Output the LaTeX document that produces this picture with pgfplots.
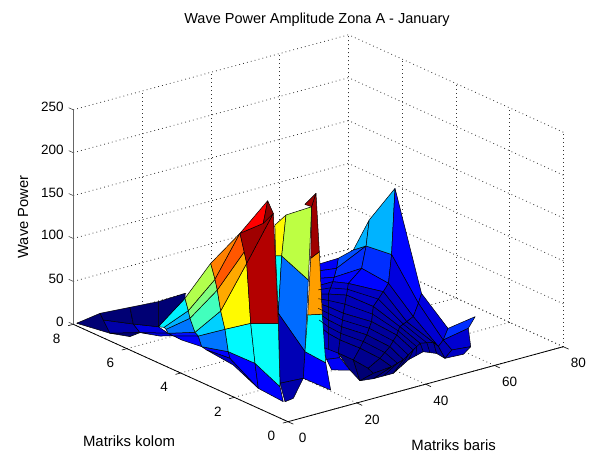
\documentclass[border=0pt]{standalone}
\usepackage{fontspec}
\setmainfont{Liberation Sans}
\usepackage{pgfplots}
\pgfplotsset{compat=1.18}
\begin{document}
\begin{tikzpicture}[x=1pt,y=1pt]
\path[use as bounding box] (0,0) rectangle (595,452);
\begin{axis}[
  at={(288pt,30.3pt)},anchor=origin,
  x={(3.441pt,0.9375pt)},y={(-26.84pt,12.175pt)},z={(0pt,0.858pt)},
  xmin=0,xmax=80,ymin=0,ymax=8,zmin=0,zmax=250,
  xtick={0,20,40,60,80},ytick={0,2,4,6,8},ztick={0,50,100,150,200,250},
  clip=false,
  grid=major,major grid style={black!80,line width=0.8pt,dash pattern=on 0.8pt off 3.2pt},
  axis line style={draw=none},
  major tick length=0pt,
  font=\fontsize{13.5}{15}\selectfont,
  xticklabel style={xshift=9pt,yshift=-7pt},
  yticklabel style={xshift=-10pt,yshift=-5.5pt},
  zticklabel style={xshift=-6pt,yshift=2pt},
  /pgf/number format/assume math mode=true,
  colormap={myjet}{rgb255=(0,0,90) rgb255=(0,0,255) rgb255=(0,128,255) rgb255=(0,255,255) rgb255=(128,255,128) rgb255=(255,255,0) rgb255=(255,128,0) rgb255=(255,0,0) rgb255=(128,0,0)},
  point meta min=0,point meta max=1,
  title={Wave Power Amplitude Zona A - January},
  title style={at={(axis cs:8.43,0,452)},anchor=center,font=\fontsize{14.5}{16}\selectfont},
  xlabel={Matriks baris},
  xlabel style={at={(axis cs:21.25,-3.39,0)},anchor=center,inner sep=0pt,xshift=1.5pt,yshift=-2.5pt,font=\fontsize{14.9}{16}\selectfont},
  ylabel={Matriks kolom},
  ylabel style={at={(axis cs:-36,1.27,0)},anchor=center,xshift=-1pt,yshift=-1pt,font=\fontsize{14.9}{16}\selectfont},
  zlabel={Wave Power},
  zlabel style={at={(axis cs:-14.6,8,141)},anchor=center,rotate=0,font=\fontsize{14.7}{16}\selectfont},
]
\addplot3[patch,patch type=rectangle,shader=faceted,faceted color=black,line width=0.5pt,point meta=explicit]
table[row sep=\\,meta=c] {
x y z c\\
63.4 7 14.9 0.12\\ 69.2 7 15.5 0.12\\ 68.7 7 4.3 0.12\\ 63.4 7 7.1 0.12\\
69.2 7 15.5 0.2\\ 73.6 7 20.4 0.2\\ 69.5 6 43.7 0.2\\ 68.7 7 4.3 0.2\\
73.6 7 20.4 0.3\\ 70.4 6 73 0.3\\ 69.5 6 43.7 0.3\\ 69.5 6 43.7 0.3\\
70.4 6 73 0.3\\ 70.1 5 124.4 0.3\\ 69.1 5 48.4 0.3\\ 69.5 6 43.7 0.3\\
70.1 5 124.4 0.13\\ 70 4 16.2 0.13\\ 69.1 4 5.8 0.13\\ 69.1 5 48.4 0.13\\
70 4 16.2 0.1\\ 62.1 2 12.5 0.1\\ 60.7 2 0.5 0.1\\ 69.1 4 5.8 0.1\\
62.1 2 12.5 0.17\\ 70 2 17.6 0.17\\ 68 2 6.1 0.17\\ 60.7 2 0.5 0.17\\
63.4 7 7.1 0.13\\ 68.7 7 4.3 0.13\\ 60.2 6 17.4 0.13\\ 55.6 6 21.1 0.13\\
68.7 7 4.3 0.17\\ 69.5 6 43.7 0.17\\ 68.2 6 19.1 0.17\\ 60.2 6 17.4 0.17\\
69.5 6 43.7 0.17\\ 69.1 5 48.4 0.17\\ 68.2 5 15.8 0.17\\ 68.2 6 19.1 0.17\\
69.1 5 48.4 0.1\\ 69.1 4 5.8 0.1\\ 59.8 3 14.6 0.1\\ 68.2 5 15.8 0.1\\
69.1 4 5.8 0.09\\ 60.7 2 0.5 0.09\\ 51.5 1 17.2 0.09\\ 59.8 3 14.6 0.09\\
60.7 2 0.5 0.09\\ 68 2 6.1 0.09\\ 60.9 1 6.7 0.09\\ 55.4 1 8.9 0.09\\
55.4 1 8.9 0.08\\ 60.9 1 6.7 0.08\\ 58.8 1 0.2 0.08\\ 53.4 1 1.3 0.08\\
60.7 2 0.5 0.07\\ 55.4 1 8.9 0.07\\ 53.4 1 1.3 0.07\\ 51.5 1 17.2 0.07\\
55.6 6 21.1 0.12\\ 60.2 6 17.4 0.12\\ 52 5 35.4 0.12\\ 47.8 5 35.3 0.12\\
60.2 6 17.4 0.13\\ 68.2 6 19.1 0.13\\ 56.5 5 28.5 0.13\\ 52 5 35.4 0.13\\
68.2 6 19.1 0.13\\ 68.2 5 15.8 0.13\\ 66.7 5 7.7 0.13\\ 56.5 5 28.5 0.13\\
68.2 5 15.8 0.08\\ 59.8 3 14.6 0.08\\ 57.9 3 10.8 0.08\\ 66.7 5 7.7 0.08\\
59.8 3 14.6 0.07\\ 51.5 1 17.2 0.07\\ 57.9 2 0.8 0.07\\ 57.9 3 10.8 0.07\\
51.5 1 17.2 0.05\\ 53.4 1 1.3 0.05\\ 51 1 9.6 0.05\\ 57.9 2 0.8 0.05\\
47.8 5 35.3 0.09\\ 52 5 35.4 0.09\\ 50.7 5 22.4 0.09\\ 47.8 5 25.6 0.09\\
52 5 35.4 0.09\\ 56.5 5 28.5 0.09\\ 56 5 15.4 0.09\\ 50.7 5 22.4 0.09\\
56.5 5 28.5 0.08\\ 66.7 5 7.7 0.08\\ 56 4 16.3 0.08\\ 56 5 15.4 0.08\\
66.7 5 7.7 0.07\\ 57.9 3 10.8 0.07\\ 55.9 3 7.1 0.07\\ 56 4 16.3 0.07\\
57.9 3 10.8 0.06\\ 57.9 2 0.8 0.06\\ 54 2 4 0.06\\ 55.9 3 7.1 0.06\\
57.9 2 0.8 0.05\\ 51 1 9.6 0.05\\ 47.1 1 15.9 0.05\\ 54 2 4 0.05\\
47.8 5 25.6 0.07\\ 50.7 5 22.4 0.07\\ 42.9 4 30.4 0.07\\ 40 4 37.4 0.07\\
50.7 5 22.4 0.07\\ 56 5 15.4 0.07\\ 47.3 4 17.9 0.07\\ 42.9 4 30.4 0.07\\
56 5 15.4 0.07\\ 56 4 16.3 0.07\\ 47.7 3 21.9 0.07\\ 47.3 4 17.9 0.07\\
56 4 16.3 0.06\\ 55.9 3 7.1 0.06\\ 47.2 2 21 0.06\\ 47.7 3 21.9 0.06\\
55.9 3 7.1 0.05\\ 54 2 4 0.05\\ 44.2 1 21 0.05\\ 47.2 2 21 0.05\\
54 2 4 0.05\\ 47.1 1 15.9 0.05\\ 42.8 1 11.2 0.05\\ 44.2 1 21 0.05\\
40 4 37.4 0.06\\ 42.9 4 30.4 0.06\\ 42.9 4 14.9 0.06\\ 40 4 26 0.06\\
42.9 4 30.4 0.07\\ 47.3 4 17.9 0.07\\ 39 3 25.4 0.07\\ 42.9 4 14.9 0.07\\
47.3 4 17.9 0.06\\ 47.7 3 21.9 0.06\\ 46.3 3 8 0.06\\ 39 3 25.4 0.06\\
47.7 3 21.9 0.05\\ 47.2 2 21 0.05\\ 45.2 2 9.6 0.05\\ 46.3 3 8 0.05\\
47.2 2 21 0.05\\ 44.2 1 21 0.05\\ 41.3 1 12.8 0.05\\ 45.2 2 9.6 0.05\\
44.2 1 21 0.04\\ 42.8 1 11.2 0.04\\ 38.4 1 0.2 0.04\\ 41.3 1 12.8 0.04\\
40 4 26 0.07\\ 42.9 4 14.9 0.07\\ 35.1 3 22 0.07\\ 32.7 3 32.4 0.07\\
42.9 4 14.9 0.06\\ 39 3 25.4 0.06\\ 38.5 3 10.6 0.06\\ 35.1 3 22 0.06\\
39 3 25.4 0.05\\ 46.3 3 8 0.05\\ 36.5 2 17.4 0.05\\ 38.5 3 10.6 0.05\\
46.3 3 8 0.04\\ 45.2 2 9.6 0.04\\ 34.5 1 21.9 0.04\\ 36.5 2 17.4 0.04\\
45.2 2 9.6 0.04\\ 41.3 1 12.8 0.04\\ 37.9 1 8.5 0.04\\ 34.5 1 21.9 0.04\\
41.3 1 12.8 0.03\\ 38.4 1 0.2 0.03\\ 32.6 1 0.3 0.03\\ 37.9 1 8.5 0.03\\
32.7 3 32.4 0.08\\ 35.1 3 22 0.08\\ 35.1 3 2.7 0.08\\ 33.2 3 8.6 0.08\\
35.1 3 22 0.06\\ 38.5 3 10.6 0.06\\ 30.2 2 18.5 0.06\\ 35.1 3 2.7 0.06\\
38.5 3 10.6 0.05\\ 36.5 2 17.4 0.05\\ 34.6 2 5.7 0.05\\ 30.2 2 18.5 0.05\\
36.5 2 17.4 0.04\\ 34.5 1 21.9 0.04\\ 31.1 1 14 0.04\\ 34.6 2 5.7 0.04\\
34.5 1 21.9 0.03\\ 37.9 1 8.5 0.03\\ 32.6 1 6.5 0.03\\ 31.1 1 14 0.03\\
37.9 1 8.5 0.02\\ 32.6 1 0.3 0.02\\ 28.7 1 2.2 0.02\\ 32.6 1 6.5 0.02\\
34.6 2 5.7 0.02\\ 31.1 1 14 0.02\\ 32.6 1 6.5 0.02\\ 28.7 1 2.2 0.02\\
30.2 2 18.5 0.03\\ 34.6 2 5.7 0.03\\ 28.7 1 2.2 0.03\\ 25.8 1 17.8 0.03\\
33.2 3 8.6 0.1\\ 30.2 2 18.5 0.1\\ 30.7 2 12.7 0.1\\ 26.8 2 14.9 0.1\\
26.8 2 14.9 0.12\\ 30.7 2 12.7 0.12\\ 25.8 1 17.8 0.12\\ 20.5 1 23.7 0.12\\
20.54 2 30.8 0.125\\ 18.76 1 34 0.125\\ 20.2 1 0.6 0.125\\ 20.05 2 0.3 0.125\\
20.54 2 30.8 0.37\\ 21.33 2 72.7 0.37\\ 17.77 1 91.8 0.37\\ 18.76 1 34 0.37\\
21.33 2 72.7 0.72\\ 22.2 2 137.8 0.72\\ 16.9 1 165.4 0.72\\ 17.77 1 91.8 0.72\\
22.2 2 137.8 0.97\\ 22.49 2 197.6 0.97\\ 15.94 1 234.6 0.97\\ 16.9 1 165.4 0.97\\
20.5 2 202.5 0.97\\ 15.94 1 234.6 0.97\\ 22.49 2 197.6 0.97\\ 22.49 2 197.6 0.97\\
22.82 3 173.4 0.56\\ 22.49 2 197.6 0.56\\ 21.5 2 113.3 0.56\\ 21.57 3 127 0.56\\
21.57 3 127 0.23\\ 21.5 2 113.3 0.23\\ 20.54 2 30.8 0.23\\ 20.58 3 61.3 0.23\\
27.6 4 106.2 0.38\\ 21.57 3 127 0.38\\ 20.58 3 61.3 0.38\\ 20.58 3 61.3 0.38\\
27.4 4 142.5 0.63\\ 22.82 3 173.4 0.63\\ 21.57 3 127 0.63\\ 27.6 4 106.2 0.63\\
20.58 3 61.3 0.07\\ 20.54 2 30.8 0.07\\ 20.05 2 0.3 0.07\\ 13.3 2 1.9 0.07\\
13.3 2 1.9 0.06\\ 20.05 2 0.3 0.06\\ 9.34 1 2.8 0.06\\ 6.93 1 1.5 0.06\\
1 8 0.1 0.02\\ 0 7 27 0.02\\ 0.92 7 18.2 0.02\\ 2.87 7 0.6 0.02\\
0 7 27 0.02\\ 0.88 6 47.2 0.02\\ 1.84 6 26.7 0.02\\ 0.92 7 18.2 0.02\\
0.88 6 47.2 0.02\\ 1.31 5 67.5 0.02\\ 1.31 5 38.3 0.02\\ 1.84 6 26.7 0.02\\
1.31 5 67.5 0.02\\ 1.27 4 91.5 0.02\\ 1.27 4 85.7 0.02\\ 1.31 5 38.3 0.02\\
2.87 7 0.6 0.06\\ 0.92 7 18.2 0.06\\ 1.84 6 26.7 0.06\\ 3.79 6 14.5 0.06\\
2.87 7 0.6 0.02\\ 3.79 6 14.5 0.02\\ 0.88 6 13.1 0.02\\ 0.88 6 13.1 0.02\\
1.84 6 26.7 0.1\\ 1.31 5 38.3 0.1\\ 4.21 5 27.5 0.1\\ 3.79 6 14.5 0.1\\
3.79 6 14.5 0.1\\ 4.21 5 27.5 0.1\\ 5.67 5 23 0.1\\ 1.8 5 26.9 0.1\\
1.31 5 38.3 0.36\\ 1.27 4 85.7 0.36\\ 2.23 4 70.2 0.36\\ 2.96 5 35.8 0.36\\
2.96 5 35.8 0.3\\ 2.23 4 70.2 0.3\\ 2.72 4 60.8 0.3\\ 3.55 5 32.8 0.3\\
3.55 5 32.8 0.24\\ 2.72 4 60.8 0.24\\ 4.17 4 42.9 0.24\\ 4.21 5 27.5 0.24\\
4.21 5 27.5 0.14\\ 4.17 4 42.9 0.14\\ 5.13 4 37.5 0.14\\ 5.67 5 23 0.14\\
5.67 5 23 0.125\\ 5.13 4 37.5 0.125\\ 6.12 4 24 0.125\\ 8.11 5 15.4 0.125\\
1.27 4 85.7 0.55\\ 0.94 3 141 0.55\\ 2.19 3 121 0.55\\ 2.23 4 70.2 0.55\\
2.23 4 70.2 0.5\\ 2.19 3 121 0.5\\ 2.85 3 107.8 0.5\\ 2.72 4 60.8 0.5\\
2.72 4 60.8 0.44\\ 2.85 3 107.8 0.44\\ 3.84 3 82.3 0.44\\ 4.17 4 42.9 0.44\\
4.17 4 42.9 0.33\\ 3.84 3 82.3 0.33\\ 5.09 3 59.6 0.33\\ 5.13 4 37.5 0.33\\
5.13 4 37.5 0.24\\ 5.09 3 59.6 0.24\\ 6.05 3 32.4 0.24\\ 6.12 4 24 0.24\\
6.12 4 24 0.125\\ 6.05 3 32.4 0.125\\ 6.54 3 24.2 0.125\\ 7.57 4 18.5 0.125\\
0.94 3 141 0.75\\ 1.65 2 189.4 0.75\\ 2.19 3 121 0.75\\ 2.19 3 121 0.75\\
2.19 3 121 0.79\\ 1.65 2 189.4 0.79\\ 2.9 2 166.6 0.79\\ 2.85 3 107.8 0.79\\
2.85 3 107.8 0.71\\ 2.9 2 166.6 0.71\\ 3.6 2 152.3 0.71\\ 3.84 3 82.3 0.71\\
3.84 3 82.3 0.63\\ 3.6 2 152.3 0.63\\ 4.76 2 81.1 0.63\\ 5.09 3 59.6 0.63\\
5.09 3 59.6 0.37\\ 4.76 2 81.1 0.37\\ 6.01 2 33.1 0.37\\ 6.05 3 32.4 0.37\\
6.05 3 32.4 0.125\\ 6.01 2 33.1 0.125\\ 6.97 2 2.9 0.125\\ 6.54 3 24.2 0.125\\
7.57 4 18.5 0.08\\ 6.54 3 24.2 0.08\\ 6.97 2 2.9 0.08\\ 7.5 3 15.3 0.08\\
3.6 2 152.3 0.95\\ 3.53 1 224.8 0.95\\ 4.98 1 95 0.95\\ 4.76 2 81.1 0.95\\
4.76 2 81.1 0.38\\ 4.98 1 95 0.38\\ 5.48 1 20.6 0.38\\ 6.01 2 33.1 0.38\\
6.01 2 33.1 0.125\\ 5.48 1 20.6 0.125\\ 6.43 1 2.1 0.125\\ 6.97 2 2.9 0.125\\
3.6 2 152.3 0.97\\ 1.65 2 189.4 0.97\\ 0.62 1 216.3 0.97\\ 3.53 1 224.8 0.97\\
1.65 2 189.4 0.875\\ 1.9 1 241.3 0.875\\ 0.62 1 216.3 0.875\\ 0.62 1 216.3 0.875\\
1.9 1 241.3 0.99\\ 3.53 1 224.8 0.99\\ 0.62 1 216.3 0.99\\ 0.62 1 216.3 0.99\\
};
\addplot3[black,line width=0.5pt,no marks] coordinates {(47.8,5,30.5) (51.35,5,28.9) (56.25,5,22) (61.35,4.5,12) (56.9,3,9) (55.95,2,2.4) (49.05,1,12.8)};
\addplot3[black,line width=0.5pt,no marks] coordinates {(43.9,4.5,31.5) (46.8,4.5,26.4) (51.65,4.5,16.7) (51.85,3.5,19.1) (51.55,2.5,14) (49.1,1.5,12.5) (44.95,1,13.55)};
\addplot3[black,line width=0.5pt,no marks] coordinates {(40,4,31.7) (42.9,4,22.65) (43.15,3.5,21.65) (47,3,14.95) (46.2,2,15.3) (42.75,1,16.9) (40.6,1,5.7)};
\addplot3[black,line width=0.5pt,no marks] coordinates {(36.35,3.5,29.2) (39,3.5,18.45) (38.75,3,18) (41.4,2.5,12.7) (39.85,1.5,15.75) (39.6,1,10.65) (35.5,1,0.25)};
\draw[black,line width=0.8pt] (axis cs:0,0,0)--(axis cs:80,0,0);
\draw[black,line width=0.8pt] (axis cs:0,0,0)--(axis cs:0,8,0);
\draw[black!60,line width=1.2pt] (axis cs:0,8,0)--(axis cs:0,8,250);
\draw[black,line width=0.6pt] (axis cs:0,0,0)--(axis cs:0,-0.2,0) (axis cs:20,0,0)--(axis cs:20,-0.2,0) (axis cs:40,0,0)--(axis cs:40,-0.2,0) (axis cs:60,0,0)--(axis cs:60,-0.2,0) (axis cs:80,0,0)--(axis cs:80,-0.2,0);
\draw[black,line width=0.6pt] (axis cs:0,0,0)--(axis cs:-1.5,0,0) (axis cs:0,2,0)--(axis cs:-1.5,2,0) (axis cs:0,4,0)--(axis cs:-1.5,4,0) (axis cs:0,6,0)--(axis cs:-1.5,6,0) (axis cs:0,8,0)--(axis cs:-1.5,8,0);
\draw[black!70,line width=0.6pt] (axis cs:0,8,0)--(axis cs:0,8.17,0) (axis cs:0,8,50)--(axis cs:0,8.17,50) (axis cs:0,8,100)--(axis cs:0,8.17,100) (axis cs:0,8,150)--(axis cs:0,8.17,150) (axis cs:0,8,200)--(axis cs:0,8.17,200) (axis cs:0,8,250)--(axis cs:0,8.17,250);
\end{axis}
\end{tikzpicture}
\end{document}
